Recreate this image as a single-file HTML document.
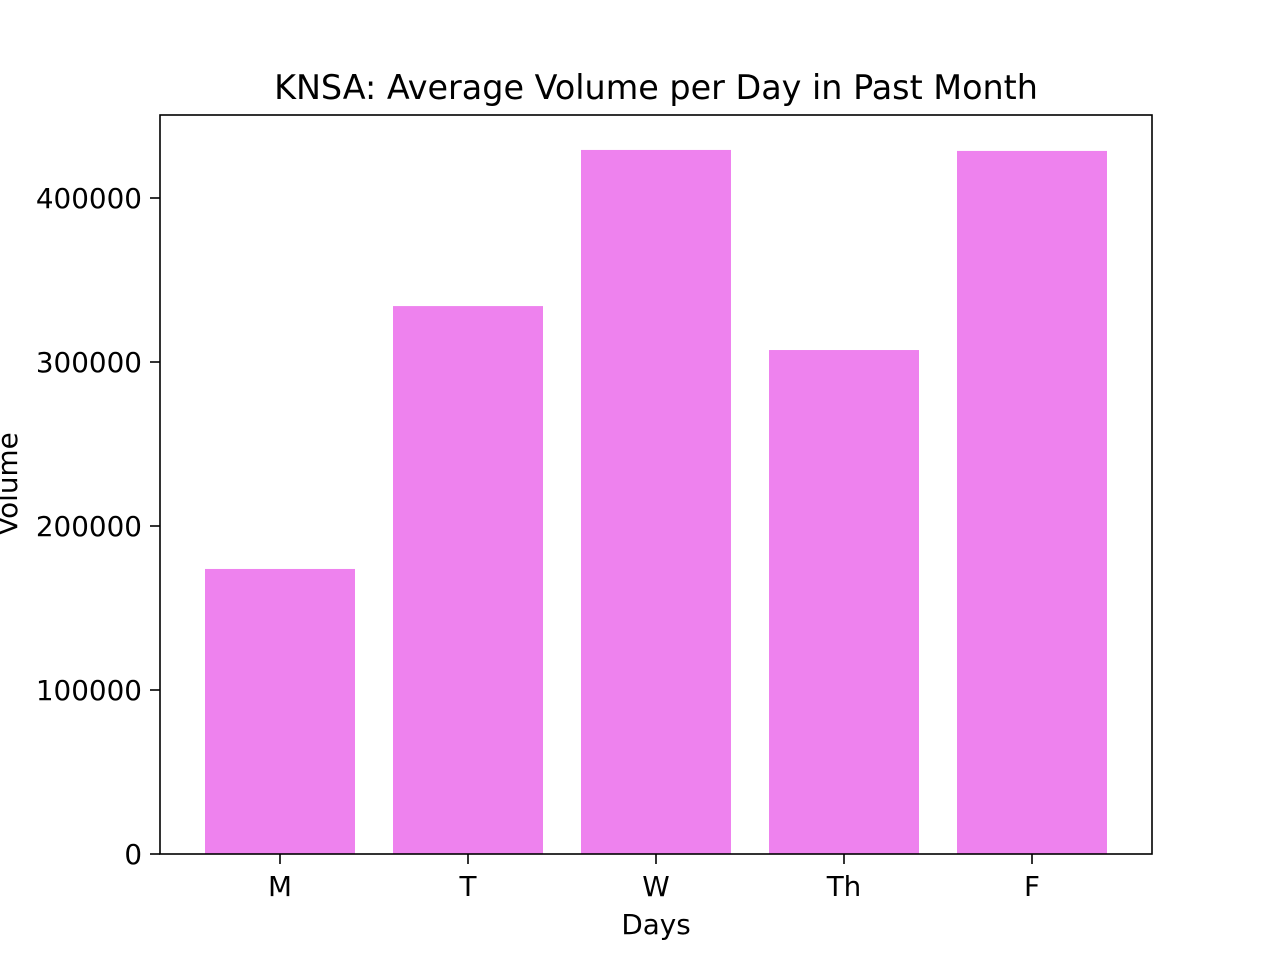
<!DOCTYPE html>
<html><head><meta charset="utf-8"><style>
html,body{margin:0;padding:0;background:#fff;}
svg text{font-family:"DejaVu Sans","Liberation Sans",sans-serif;fill:#000;}
</style></head><body>
<svg id="chart" width="1280" height="960" xmlns="http://www.w3.org/2000/svg">
<rect width="1280" height="960" fill="#fff"/>
<g id="bars"></g>
<g id="axes"></g>
</svg>
<script>
const categories = ["M","T","W","Th","F"];
const volumes = [173800, 334100, 429300, 307300, 428700];
const yTicks = [0, 100000, 200000, 300000, 400000];
const yTickLabels = ["0","100000","200000","300000","400000"];

const L=160,R=1152,T=115,B=854;
const pxPerUnitY=656/400000;
function y(v){return B - v*pxPerUnitY;}
function x(i){return 656 + (i-2)*188;}
const bw=150;
const FS=27.8;
const NS="http://www.w3.org/2000/svg";
function mk(tag,attrs,parent){const e=document.createElementNS(NS,tag);for(const k in attrs)e.setAttribute(k,attrs[k]);parent.appendChild(e);return e;}
const bars=document.getElementById('bars');
const axes=document.getElementById('axes');
categories.forEach((c,i)=>{
  const r=mk('rect',{x:x(i)-bw/2,y:y(volumes[i]),width:bw,height:B-y(volumes[i]),fill:'#ee82ee'},bars);
  
  
  const tk=mk('line',{x1:x(i),x2:x(i),y1:B,y2:B+10,stroke:'#000','stroke-width':1.6},axes);
  
  
  const t=mk('text',{x:x(i),y:B+42,'text-anchor':'middle','font-size':FS},axes);
  t.textContent=c;
  
  
});
yTicks.forEach((v,i)=>{
  const tk=mk('line',{x1:L-10,x2:L,y1:y(v),y2:y(v),stroke:'#000','stroke-width':1.6},axes);
  
  
  const t=mk('text',{x:L-18,y:y(v)+10,'text-anchor':'end','font-size':FS},axes);
  t.textContent=yTickLabels[i];
  
  
});
const frame=mk('rect',{x:L,y:T,width:R-L,height:B-T,fill:'none',stroke:'#000','stroke-width':1.6},axes);


const title=mk('text',{x:656,y:99,'text-anchor':'middle','font-size':33.4},axes);
title.textContent='KNSA: Average Volume per Day in Past Month';


const xl=mk('text',{x:656,y:934,'text-anchor':'middle','font-size':FS},axes);
xl.textContent='Days';


const yl=mk('text',{x:0,y:0,'text-anchor':'middle','font-size':FS,transform:'translate(17,484) rotate(-90)'},axes);
yl.textContent='Volume';


</script>
</body></html>
